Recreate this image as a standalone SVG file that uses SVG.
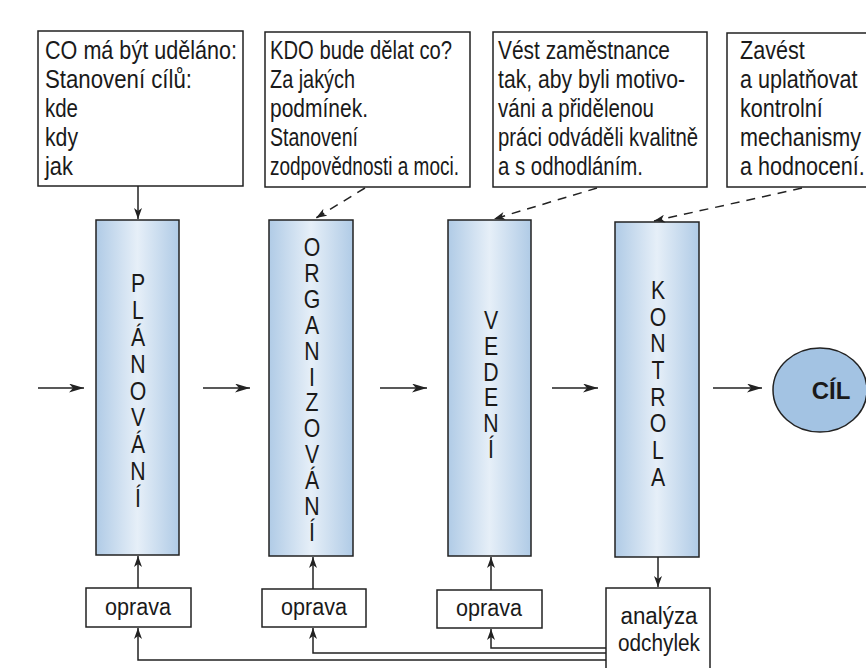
<svg xmlns="http://www.w3.org/2000/svg" width="866" height="668" viewBox="0 0 866 668">
<defs>
<linearGradient id="colfill" x1="0" y1="0" x2="1" y2="0">
<stop offset="0" stop-color="#b0cbe6"/>
<stop offset="0.5" stop-color="#e6eff8"/>
<stop offset="1" stop-color="#b0cbe6"/>
</linearGradient>
<marker id="ah" viewBox="0 0 15 9" refX="15" refY="4.5" markerWidth="15" markerHeight="9" markerUnits="userSpaceOnUse" orient="auto">
<path d="M0,0 L15,4.5 L0,9 L4,4.5 z" fill="#222"/>
</marker>
<marker id="as" viewBox="0 0 11 8" refX="11" refY="4" markerWidth="11" markerHeight="8" markerUnits="userSpaceOnUse" orient="auto">
<path d="M0,0 L11,4 L0,8 L3,4 z" fill="#222"/>
</marker>
</defs>
<style>
.box{fill:#fff;stroke:#222;stroke-width:1.5}
.col{fill:url(#colfill);stroke:#222;stroke-width:1.5}
.t{font-family:"Liberation Sans",Arial,sans-serif;font-size:26px;fill:#1a1a1a}
.v{font-family:"Liberation Sans",Arial,sans-serif;font-size:25px;fill:#1a1a1a;text-anchor:middle}
.s{font-family:"Liberation Sans",Arial,sans-serif;font-size:23px;fill:#1a1a1a;text-anchor:middle}
.ln{fill:none;stroke:#222;stroke-width:1.5}
.dash{fill:none;stroke:#222;stroke-width:1.5;stroke-dasharray:9 7}
</style>
<rect width="866" height="668" fill="#fff"/>

<g id="box-co">
<rect class="box" x="38" y="31" width="205" height="155"/>
<text class="t"><tspan x="45" y="59" textLength="192" lengthAdjust="spacingAndGlyphs">CO má být uděláno:</tspan><tspan x="45" y="88" textLength="147" lengthAdjust="spacingAndGlyphs">Stanovení cílů:</tspan><tspan x="45" y="117" textLength="33" lengthAdjust="spacingAndGlyphs">kde</tspan><tspan x="45" y="146" textLength="33" lengthAdjust="spacingAndGlyphs">kdy</tspan><tspan x="45" y="175" textLength="28" lengthAdjust="spacingAndGlyphs">jak</tspan></text>
</g>
<g id="box-kdo">
<rect class="box" x="265" y="32" width="205" height="155"/>
<text class="t"><tspan x="270" y="59" textLength="182" lengthAdjust="spacingAndGlyphs">KDO bude dělat co?</tspan><tspan x="270" y="88" textLength="85" lengthAdjust="spacingAndGlyphs">Za jakých</tspan><tspan x="270" y="117" textLength="98" lengthAdjust="spacingAndGlyphs">podmínek.</tspan><tspan x="270" y="146" textLength="88" lengthAdjust="spacingAndGlyphs">Stanovení</tspan><tspan x="270" y="175" textLength="189" lengthAdjust="spacingAndGlyphs">zodpovědnosti a moci.</tspan></text>
</g>
<g id="box-vest">
<rect class="box" x="493" y="32" width="214" height="155"/>
<text class="t"><tspan x="498" y="59" textLength="172" lengthAdjust="spacingAndGlyphs">Vést zaměstnance</tspan><tspan x="498" y="88" textLength="187" lengthAdjust="spacingAndGlyphs">tak, aby byli motivo-</tspan><tspan x="498" y="117" textLength="156" lengthAdjust="spacingAndGlyphs">váni a přidělenou</tspan><tspan x="498" y="146" textLength="200" lengthAdjust="spacingAndGlyphs">práci odváděli kvalitně</tspan><tspan x="498" y="175" textLength="145" lengthAdjust="spacingAndGlyphs">a s odhodláním.</tspan></text>
</g>
<g id="box-zavest">
<rect class="box" x="727" y="33" width="160" height="154"/>
<g transform="translate(740,0) scale(0.83,1)"><text class="t"><tspan x="0" y="59">Zavést</tspan><tspan x="0" y="88">a uplatňovat</tspan><tspan x="0" y="117">kontrolní</tspan><tspan x="0" y="146">mechanismy</tspan><tspan x="0" y="175">a hodnocení.</tspan></text></g>
</g>

<g id="planovani">
<rect class="col" x="96" y="220" width="83" height="335"/>
<g transform="translate(138,0) scale(0.85,1)"><text class="v"><tspan x="0" y="292">P</tspan><tspan x="0" y="319">L</tspan><tspan x="0" y="346">Á</tspan><tspan x="0" y="373">N</tspan><tspan x="0" y="400">O</tspan><tspan x="0" y="426">V</tspan><tspan x="0" y="453">Á</tspan><tspan x="0" y="480">N</tspan><tspan x="0" y="507">Í</tspan></text></g>
</g>
<g id="organizovani">
<rect class="col" x="269" y="220" width="84" height="336"/>
<g transform="translate(312,0) scale(0.85,1)"><text class="v"><tspan x="0" y="256">O</tspan><tspan x="0" y="282">R</tspan><tspan x="0" y="308">G</tspan><tspan x="0" y="334">A</tspan><tspan x="0" y="360">N</tspan><tspan x="0" y="386">I</tspan><tspan x="0" y="411">Z</tspan><tspan x="0" y="437">O</tspan><tspan x="0" y="463">V</tspan><tspan x="0" y="489">Á</tspan><tspan x="0" y="515">N</tspan><tspan x="0" y="541">Í</tspan></text></g>
</g>
<g id="vedeni">
<rect class="col" x="448" y="220" width="83" height="336"/>
<g transform="translate(491,0) scale(0.85,1)"><text class="v"><tspan x="0" y="329">V</tspan><tspan x="0" y="355">E</tspan><tspan x="0" y="381">D</tspan><tspan x="0" y="406">E</tspan><tspan x="0" y="432">N</tspan><tspan x="0" y="458">Í</tspan></text></g>
</g>
<g id="kontrola">
<rect class="col" x="615" y="222" width="84" height="335"/>
<g transform="translate(658,0) scale(0.85,1)"><text class="v"><tspan x="0" y="299">K</tspan><tspan x="0" y="326">O</tspan><tspan x="0" y="352">N</tspan><tspan x="0" y="379">T</tspan><tspan x="0" y="406">R</tspan><tspan x="0" y="432">O</tspan><tspan x="0" y="459">L</tspan><tspan x="0" y="486">A</tspan></text></g>
</g>
<g id="cil">
<ellipse cx="820" cy="390" rx="47" ry="42" fill="#a3c3e3" stroke="#222" stroke-width="1.5"/>
<text x="831" y="399" font-family="Liberation Sans,Arial,sans-serif" font-size="24" font-weight="bold" fill="#1a1a1a" text-anchor="middle">CÍL</text>
</g>

<g id="oprava1">
<rect class="box" x="86" y="588" width="105" height="39"/>
<text class="s" x="138" y="615" textLength="66" lengthAdjust="spacingAndGlyphs">oprava</text>
</g>
<g id="oprava2">
<rect class="box" x="262" y="589" width="104" height="38"/>
<text class="s" x="314" y="615" textLength="66" lengthAdjust="spacingAndGlyphs">oprava</text>
</g>
<g id="oprava3">
<rect class="box" x="437" y="590" width="105" height="38"/>
<text class="s" x="489" y="616" textLength="66" lengthAdjust="spacingAndGlyphs">oprava</text>
</g>
<g id="analyza">
<rect class="box" x="606" y="588" width="104" height="90"/>
<text class="s" font-size="25"><tspan x="659" y="624" textLength="77" lengthAdjust="spacingAndGlyphs">analýza</tspan><tspan x="659" y="651" textLength="82" lengthAdjust="spacingAndGlyphs">odchylek</tspan></text>
</g>

<g id="connectors">
<line class="ln" x1="38" y1="388" x2="84" y2="388" marker-end="url(#ah)"/>
<line class="ln" x1="203" y1="388" x2="250" y2="388" marker-end="url(#ah)"/>
<line class="ln" x1="380" y1="388" x2="427" y2="388" marker-end="url(#ah)"/>
<line class="ln" x1="552" y1="388" x2="598" y2="388" marker-end="url(#ah)"/>
<line class="ln" x1="713" y1="388" x2="762" y2="388" marker-end="url(#ah)"/>
<line class="ln" x1="138" y1="186" x2="138" y2="219" marker-end="url(#as)"/>
<line class="dash" x1="365" y1="188" x2="316" y2="218" marker-end="url(#as)"/>
<line class="dash" x1="597" y1="188" x2="494" y2="219" marker-end="url(#as)"/>
<line class="dash" x1="802" y1="188" x2="654" y2="221" marker-end="url(#as)"/>
<line class="ln" x1="138" y1="588" x2="138" y2="556" marker-end="url(#as)"/>
<line class="ln" x1="313" y1="589" x2="313" y2="557" marker-end="url(#as)"/>
<line class="ln" x1="491" y1="590" x2="491" y2="557" marker-end="url(#as)"/>
<line class="ln" x1="658" y1="557" x2="658" y2="587" marker-end="url(#as)"/>
<polyline class="ln" points="606,648 491,648 491,629" marker-end="url(#as)"/>
<polyline class="ln" points="606,653 313,653 313,628" marker-end="url(#as)"/>
<polyline class="ln" points="606,660 138,660 138,628" marker-end="url(#as)"/>
</g>
</svg>
